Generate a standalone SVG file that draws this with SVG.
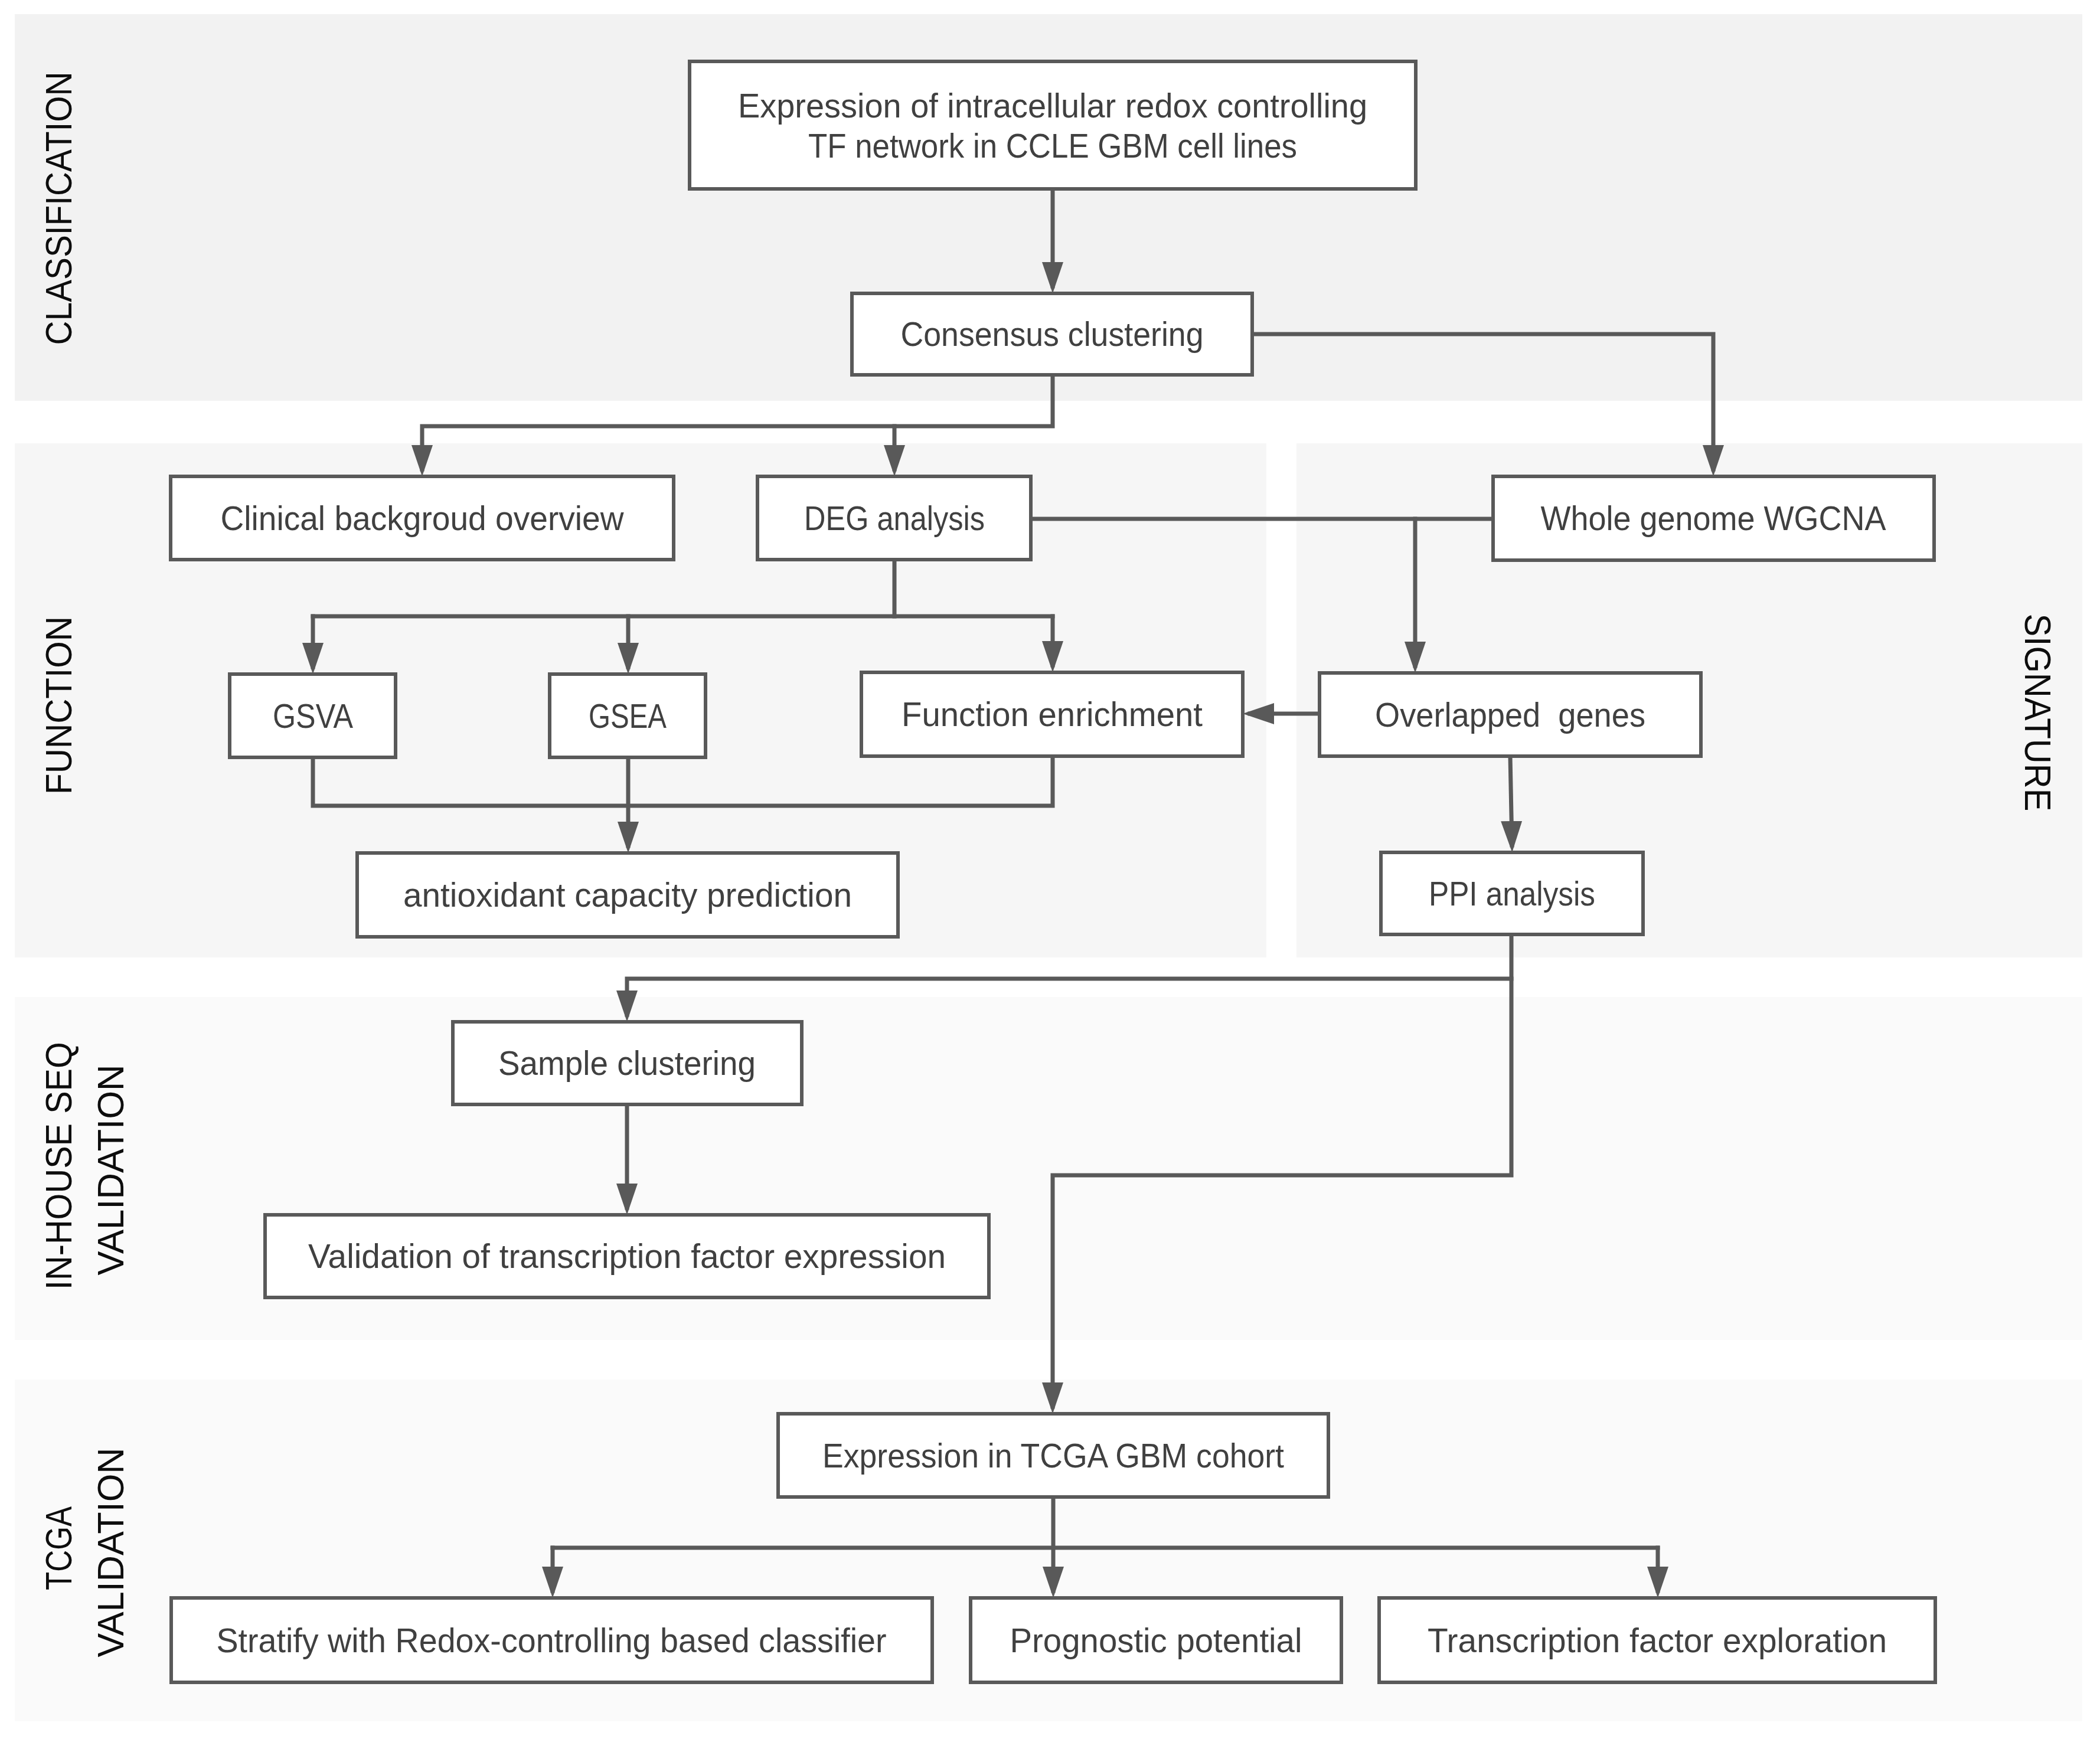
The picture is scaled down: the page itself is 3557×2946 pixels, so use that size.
<svg xmlns="http://www.w3.org/2000/svg" width="3557" height="2946" viewBox="0 0 3557 2946">
<defs>
<style>
.band1{fill:#f2f2f2}
.band2{fill:#f6f6f6}
.band3{fill:#fafafa}
.box{fill:#ffffff;stroke:#595959;stroke-width:6}
.t{font-family:"Liberation Sans",Arial,sans-serif;font-size:57px;fill:#404040;text-anchor:middle}
.lab{font-family:"Liberation Sans",Arial,sans-serif;font-size:63px;fill:#0d0d0d;text-anchor:middle}
.c{fill:none;stroke:#595959;stroke-width:7;stroke-linecap:square;stroke-linejoin:miter}
.a{marker-end:url(#ah)}
</style>
<marker id="ah" markerUnits="userSpaceOnUse" markerWidth="53" markerHeight="36" viewBox="0 0 53 36" refX="41" refY="18" orient="auto">
<path d="M0,0 L53,18 L0,36 z" fill="#595959"/>
</marker>
</defs>
<rect width="3557" height="2946" fill="#ffffff"/>
<g id="bands">
<rect class="band1" x="25" y="24" width="3502" height="655"/>
<rect class="band2" x="25" y="751" width="2120" height="871"/>
<rect class="band2" x="2196" y="751" width="1331" height="871"/>
<rect class="band3" x="25" y="1689" width="3502" height="581"/>
<rect class="band3" x="25" y="2337" width="3502" height="579"/>
</g>
<g id="labels">
<text class="lab" transform="translate(121,353) rotate(-90)" textLength="463" lengthAdjust="spacingAndGlyphs">CLASSIFICATION</text>
<text class="lab" transform="translate(121,1195) rotate(-90)" textLength="302" lengthAdjust="spacingAndGlyphs">FUNCTION</text>
<text class="lab" transform="translate(3430,1207) rotate(90)" textLength="335" lengthAdjust="spacingAndGlyphs">SIGNATURE</text>
<text class="lab" transform="translate(121,1975) rotate(-90)" textLength="420" lengthAdjust="spacingAndGlyphs">IN-HOUSE SEQ</text>
<text class="lab" transform="translate(209,1982) rotate(-90)" textLength="357" lengthAdjust="spacingAndGlyphs">VALIDATION</text>
<text class="lab" transform="translate(121,2623) rotate(-90)" textLength="142" lengthAdjust="spacingAndGlyphs">TCGA</text>
<text class="lab" transform="translate(209,2630) rotate(-90)" textLength="355" lengthAdjust="spacingAndGlyphs">VALIDATION</text>
</g>
<g id="connectors">
<path class="c a" d="M1783,320 V485"/>
<path class="c a" d="M2121,566 H2902 V795"/>
<path class="c a" d="M1783,635 V722 H715 V795"/>
<path class="c a" d="M1515,722 V795"/>
<path class="c" d="M1746,879 H2529"/>
<path class="c a" d="M2397,879 V1128"/>
<path class="c" d="M1515,948 V1044"/>
<path class="c" d="M530,1044 H1783"/>
<path class="c a" d="M530,1044 V1130"/>
<path class="c a" d="M1064,1044 V1130"/>
<path class="c a" d="M1783,1044 V1127"/>
<path class="c a" d="M2235,1209 H2117"/>
<path class="c" d="M530,1283 V1365 H1783 V1281"/>
<path class="c a" d="M1064,1283 V1433"/>
<path class="c a" d="M2558,1281 L2561,1432"/>
<path class="c a" d="M2560,1583 V1991 H1783 V2383"/>
<path class="c a" d="M2560,1658 H1062 V1719"/>
<path class="c a" d="M1062,1871 V2046"/>
<path class="c a" d="M1784,2536 V2695"/>
<path class="c" d="M936,2622 H2808"/>
<path class="c a" d="M936,2622 V2695"/>
<path class="c a" d="M2808,2622 V2695"/>
</g>
<g id="n-expression">
<rect class="box" x="1168" y="104" width="1230" height="216"/>
<text class="t" x="1783" y="199" textLength="1066" lengthAdjust="spacingAndGlyphs">Expression of intracellular redox controlling</text>
<text class="t" x="1783" y="267" textLength="828" lengthAdjust="spacingAndGlyphs">TF network in CCLE GBM cell lines</text>
</g>
<g id="n-consensus">
<rect class="box" x="1443" y="497" width="678" height="138"/>
<text class="t" x="1782" y="586" textLength="513" lengthAdjust="spacingAndGlyphs">Consensus clustering</text>
</g>
<g id="n-clinical">
<rect class="box" x="289" y="807" width="852" height="141"/>
<text class="t" x="715" y="898" textLength="683" lengthAdjust="spacingAndGlyphs">Clinical backgroud overview</text>
</g>
<g id="n-deg">
<rect class="box" x="1283" y="807" width="463" height="141"/>
<text class="t" x="1515" y="898" textLength="306" lengthAdjust="spacingAndGlyphs">DEG analysis</text>
</g>
<g id="n-wgcna">
<rect class="box" x="2529" y="807" width="747" height="142"/>
<text class="t" x="2902" y="898" textLength="585" lengthAdjust="spacingAndGlyphs">Whole genome WGCNA</text>
</g>
<g id="n-gsva">
<rect class="box" x="389" y="1142" width="281" height="141"/>
<text class="t" x="530" y="1233" textLength="136" lengthAdjust="spacingAndGlyphs">GSVA</text>
</g>
<g id="n-gsea">
<rect class="box" x="931" y="1142" width="264" height="141"/>
<text class="t" x="1063" y="1233" textLength="132" lengthAdjust="spacingAndGlyphs">GSEA</text>
</g>
<g id="n-function">
<rect class="box" x="1459" y="1139" width="646" height="142"/>
<text class="t" x="1782" y="1230" textLength="510" lengthAdjust="spacingAndGlyphs">Function enrichment</text>
</g>
<g id="n-overlapped">
<rect class="box" x="2235" y="1140" width="646" height="141"/>
<text class="t" x="2558" y="1231" textLength="458" lengthAdjust="spacingAndGlyphs" xml:space="preserve">Overlapped  genes</text>
</g>
<g id="n-ppi">
<rect class="box" x="2339" y="1444" width="444" height="139"/>
<text class="t" x="2561" y="1534" textLength="282" lengthAdjust="spacingAndGlyphs">PPI analysis</text>
</g>
<g id="n-antioxidant">
<rect class="box" x="605" y="1445" width="916" height="142"/>
<text class="t" x="1063" y="1536" textLength="760" lengthAdjust="spacingAndGlyphs">antioxidant capacity prediction</text>
</g>
<g id="n-sample">
<rect class="box" x="767" y="1731" width="591" height="140"/>
<text class="t" x="1062" y="1821" textLength="436" lengthAdjust="spacingAndGlyphs">Sample clustering</text>
</g>
<g id="n-validation">
<rect class="box" x="449" y="2058" width="1226" height="140"/>
<text class="t" x="1062" y="2148" textLength="1080" lengthAdjust="spacingAndGlyphs">Validation of transcription factor expression</text>
</g>
<g id="n-tcga">
<rect class="box" x="1318" y="2395" width="932" height="141"/>
<text class="t" x="1784" y="2486" textLength="782" lengthAdjust="spacingAndGlyphs">Expression in TCGA GBM cohort</text>
</g>
<g id="n-stratify">
<rect class="box" x="290" y="2707" width="1289" height="143"/>
<text class="t" x="934" y="2799" textLength="1135" lengthAdjust="spacingAndGlyphs">Stratify with Redox-controlling based classifier</text>
</g>
<g id="n-prognostic">
<rect class="box" x="1644" y="2707" width="628" height="143"/>
<text class="t" x="1958" y="2799" textLength="495" lengthAdjust="spacingAndGlyphs">Prognostic potential</text>
</g>
<g id="n-transcription">
<rect class="box" x="2336" y="2707" width="942" height="143"/>
<text class="t" x="2807" y="2799" textLength="778" lengthAdjust="spacingAndGlyphs">Transcription factor exploration</text>
</g>
</svg>
